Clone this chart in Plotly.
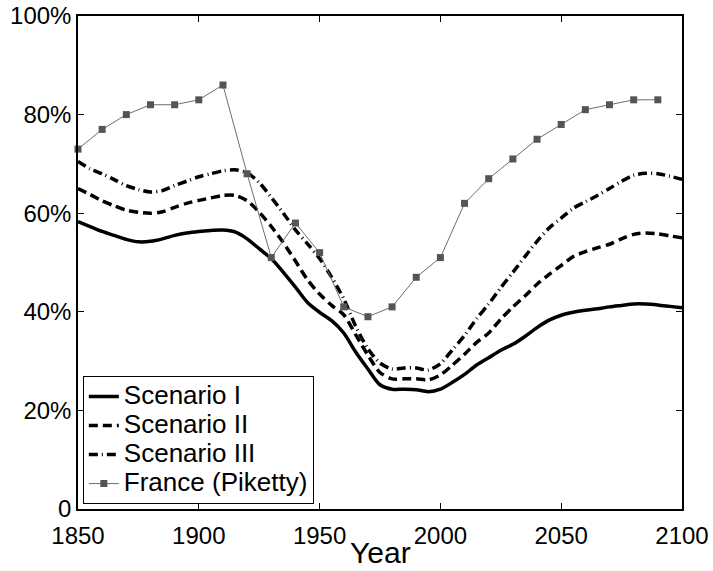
import plotly.graph_objects as go

years = list(range(1850, 2101, 5))

scenario_1 = [58.3, 57.3, 56.3, 55.5, 54.7, 54.2, 54.3, 54.8, 55.5, 56.0, 56.3,
              56.5, 56.6, 56.2, 54.8, 52.8, 50.8, 48.0, 45.0, 41.9, 39.9, 38.2,
              35.7, 31.8, 28.4, 25.2, 24.3, 24.3, 24.2, 23.8, 24.3, 25.7, 27.3,
              29.2, 30.7, 32.2, 33.4, 35.0, 36.8, 38.3, 39.3, 39.9, 40.3, 40.6,
              41.0, 41.3, 41.6, 41.6, 41.4, 41.1, 40.8]

scenario_2 = [65.0, 63.8, 62.5, 61.5, 60.6, 60.2, 60.0, 60.3, 61.2, 62.0, 62.6,
              63.1, 63.6, 63.6, 62.5, 60.2, 57.3, 54.0, 50.3, 46.5, 43.6, 41.3,
              39.4, 35.3, 31.2, 27.7, 26.4, 26.4, 26.4, 26.2, 27.2, 29.2, 31.4,
              33.8, 35.7, 38.5, 41.0, 43.2, 45.6, 47.6, 49.4, 51.2, 52.2, 53.0,
              53.7, 54.8, 55.7, 56.0, 55.8, 55.4, 55.0]

scenario_3 = [70.5, 69.0, 68.0, 66.8, 65.6, 64.8, 64.3, 64.6, 65.6, 66.5, 67.4,
              68.0, 68.6, 68.8, 68.2, 66.2, 63.2, 60.0, 56.6, 53.8, 50.8, 47.0,
              42.6, 37.0, 32.5, 29.6, 28.4, 28.6, 28.6, 28.2, 29.5, 32.3, 35.2,
              38.6, 41.6, 44.9, 48.0, 51.2, 54.3, 57.0, 59.0, 61.0, 62.3, 63.6,
              65.0, 66.5, 67.7, 68.1, 68.0, 67.5, 66.9]

france_years = list(range(1850, 2091, 10))
france = [73, 77, 80, 82, 82, 83, 86, 68, 51, 58, 52, 41, 39, 41, 47, 51,
          62, 67, 71, 75, 78, 81, 82, 83, 83]

series_names = ["Scenario I", "Scenario II", "Scenario III", "France (Piketty)"]

y_ticks = [0, 20, 40, 60, 80, 100]
y_tick_labels = ["0", "20%", "40%", "60%", "80%", "100%"]
x_ticks = [1850, 1900, 1950, 2000, 2050, 2100]

FONT = "Liberation Sans, Arial, Helvetica, sans-serif"


def legend_label(s):
    return "<span style='font-size:26px'>" + s + "</span>"


fig = go.Figure()
fig.add_trace(go.Scatter(x=years, y=scenario_1, mode="lines", name=legend_label(series_names[0]),
                         line=dict(color="black", width=3.5, shape="spline", smoothing=0.8)))
fig.add_trace(go.Scatter(x=years, y=scenario_2, mode="lines", name=legend_label(series_names[1]),
                         line=dict(color="black", width=3.5, dash="9px,5px", shape="spline", smoothing=0.8)))
fig.add_trace(go.Scatter(x=years, y=scenario_3, mode="lines", name=legend_label(series_names[2]),
                         line=dict(color="black", width=3.5, dash="9px,4px,1px,4px", shape="spline", smoothing=0.8)))
fig.add_trace(go.Scatter(x=france_years, y=france, mode="lines+markers", name=legend_label(series_names[3]),
                         line=dict(color="#6e6e6e", width=1),
                         marker=dict(symbol="square", size=7, color="#555555"),
                         cliponaxis=False))

axis_common = dict(showgrid=False, zeroline=False, showline=True, linecolor="black",
                   linewidth=1.5, mirror="ticks", ticks="inside", ticklen=6,
                   tickwidth=1, tickcolor="black", automargin=False,
                   tickfont=dict(family=FONT, size=24, color="black"))

fig.update_xaxes(range=[1850, 2100], tickvals=x_ticks, ticklabelstandoff=4, **axis_common)
fig.update_yaxes(range=[0, 100], tickvals=y_ticks, ticktext=y_tick_labels, **axis_common)

fig.add_annotation(text="Year", xref="paper", yref="paper", x=0.5, y=0,
                   xanchor="center", yanchor="middle", yshift=-43, showarrow=False,
                   font=dict(family=FONT, size=30, color="black"))

fig.update_layout(
    width=713, height=571,
    margin=dict(l=78, r=31, t=16, b=62),
    paper_bgcolor="white", plot_bgcolor="white",
    font=dict(family=FONT, color="black"),
    showlegend=True,
    legend=dict(x=0.008, y=0.01, xanchor="left", yanchor="bottom",
                bgcolor="white", bordercolor="black", borderwidth=1,
                font=dict(family=FONT, size=20, color="black"),
                tracegroupgap=0, itemwidth=30),
)

fig.write_html("out.html")
